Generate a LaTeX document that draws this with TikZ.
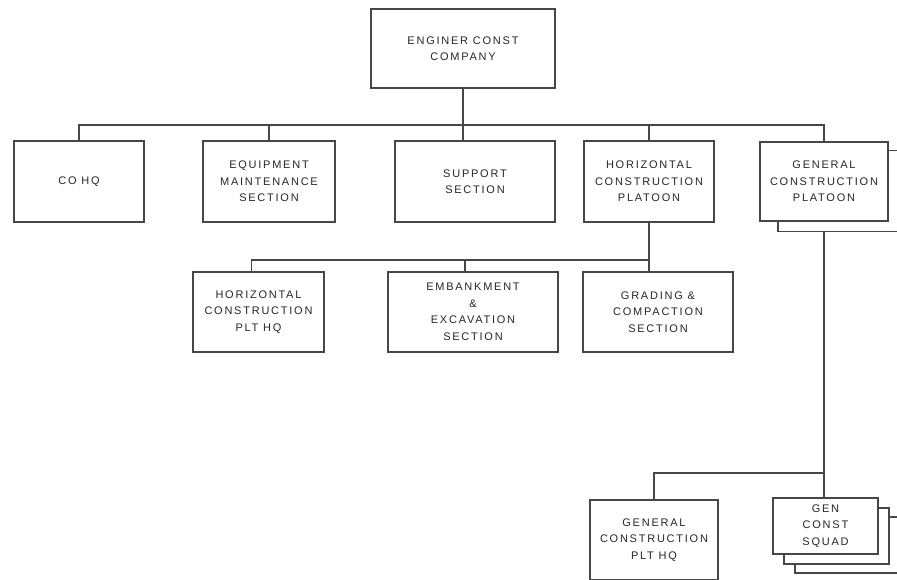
\documentclass[tikz,border=0pt]{standalone}
\usepackage{fontspec}
\setmainfont[LetterSpace=16]{Liberation Sans}
\usetikzlibrary{backgrounds}
\begin{document}
\begin{tikzpicture}[x=1pt,y=-1pt,
  box/.style={draw=black!72,line width=1.6pt,fill=white,align=center,inner sep=0pt,
    text=black!85,font=\fontsize{11}{16.5}\selectfont},
  shadowbox/.style={draw=black!72,line width=1.6pt,fill=white,inner sep=0pt},
  conn/.style={draw=black!72,line width=1.6pt}]
\useasboundingbox (0,0) rectangle (897,580);
\clip (0,0) rectangle (897,580);
% top
\node[box,minimum width=184pt,minimum height=79pt] (top) at (463,48.5) {ENGINER CONST\\COMPANY};
% row 1
\node[box,minimum width=130pt,minimum height=81pt] (cohq) at (79,181.5) {CO HQ};
\node[box,minimum width=132pt,minimum height=81pt] (equip) at (269,181.5) {EQUIPMENT\\MAINTENANCE\\SECTION};
\node[box,minimum width=160pt,minimum height=81pt] (support) at (475,181.5) {SUPPORT\\SECTION};
\node[box,minimum width=130pt,minimum height=81pt] (hcp) at (649,181.5) {HORIZONTAL\\CONSTRUCTION\\PLATOON};
\node[shadowbox,minimum width=128pt,minimum height=81pt] (gcpshadow) at (842,191) {};
\node[box,minimum width=128pt,minimum height=79pt] (gcp) at (824,181.5) {GENERAL\\CONSTRUCTION\\PLATOON};
% row 2
\node[box,minimum width=131pt,minimum height=80pt] (hchq) at (258.5,312) {HORIZONTAL\\CONSTRUCTION\\PLT HQ};
\node[box,minimum width=170pt,minimum height=80pt] (emb) at (473,312) {EMBANKMENT\\\&\\EXCAVATION\\SECTION};
\node[box,minimum width=150pt,minimum height=80pt] (grad) at (658,312) {GRADING \&\\COMPACTION\\SECTION};
% row 3
\node[box,minimum width=128pt,minimum height=80pt] (gchq) at (654,540) {GENERAL\\CONSTRUCTION\\PLT HQ};
\node[shadowbox,minimum width=105pt,minimum height=56pt] (sqshadowb) at (847.5,545) {};
\node[shadowbox,minimum width=105pt,minimum height=56pt] (sqshadowa) at (836.5,536) {};
\node[box,minimum width=105pt,minimum height=56pt] (squad) at (825.5,526) {GEN\\CONST\\SQUAD};
% connectors
\begin{scope}[on background layer]
\coordinate (bus2) at (649,260);
\coordinate (bus3) at (824,473);
\draw[conn] (cohq.north) -- ++(0,-15) -| (gcp.north);
\draw[conn] (equip.north) -- ++(0,-15);
\draw[conn] (top.south) -- (top.south |- support.north);
\draw[conn] (hcp.north) -- ++(0,-15);
\draw[conn] (hcp.south) -- (bus2);
\draw[conn] ([xshift=-7pt]hchq.north) |- (bus2);
\draw[conn] ([xshift=-8pt]emb.north) -- ++(0,-12);
\draw[conn] (bus2) -- (bus2 |- grad.north);
\draw[conn] (gcp.south) -- (bus3);
\draw[conn] (bus3) -- (bus3 |- squad.north);
\draw[conn] (gchq.north) |- (bus3);
\end{scope}
\end{tikzpicture}
\end{document}
